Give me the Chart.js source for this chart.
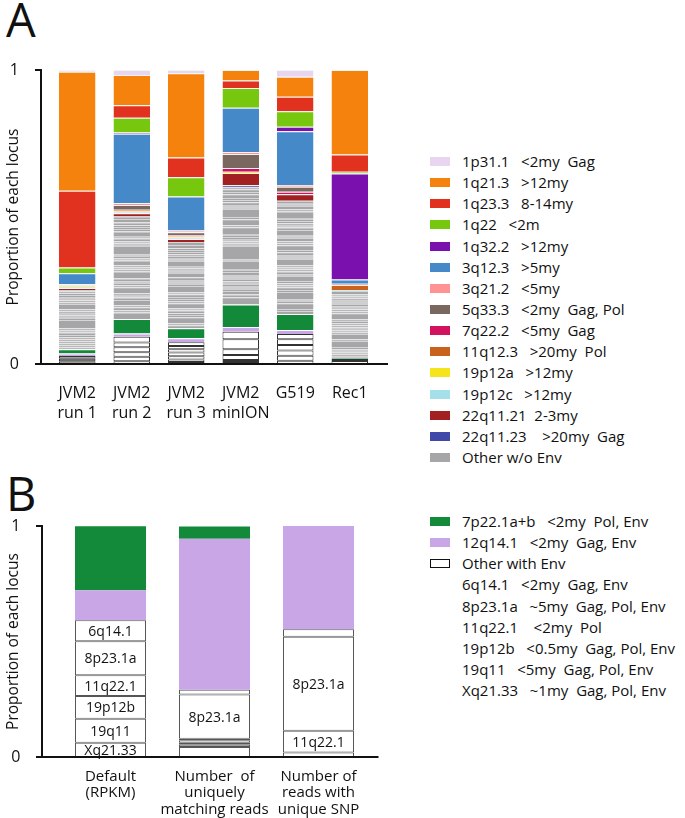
<!DOCTYPE html>
<html>
<head>
<meta charset="utf-8">
<script src="https://cdn.jsdelivr.net/npm/chart.js@4"></script>
<style>
  body { margin: 0; background: #fff; font-family: "Open Sans", sans-serif; color: #111; }
  #page { position: relative; width: 685px; height: 818px; overflow: hidden; }
  canvas { position: absolute; left: 0; }
  .letter { position: absolute; left: 6px; font-size: 47px; line-height: 1; }
  .leg { position: absolute; left: 430px; font-size: 15px; }
  .row { position: relative; height: 21.15px; line-height: 21.15px; white-space: pre; }
  .sw { position: absolute; left: 0; top: 6px; width: 20px; height: 9px; box-sizing: border-box; }
  .tx { position: absolute; left: 32px; }
</style>
</head>
<body>
<div id="page">
  <div class="letter" style="top:-4px">A</div>
  <div class="letter" style="top:470px">B</div>
  <canvas id="chartA" width="400" height="425" style="top:0"></canvas>
  <canvas id="chartB" width="400" height="358" style="top:460px"></canvas>
  <div id="legA" class="leg" style="top:151px"></div>
  <div id="legB" class="leg" style="top:511px"></div>
</div>
<script>
// ---- panel A: proportion of each HERV-K locus per sample ----
const samplesA = [["JVM2", "run 1"], ["JVM2", "run 2"], ["JVM2", "run 3"], ["JVM2", "minION"], ["G519"], ["Rec1"]];

// named loci (same order as legend)
const l1p31_1 = [0.006, 0.017, 0.011, 0, 0.023, 0];
const l1q21_3 = [0.405, 0.103, 0.287, 0.036, 0.068, 0.287];
const l1q23_3 = [0.261, 0.042, 0.067, 0.025, 0.049, 0.059];
const l1q22 = [0.019, 0.051, 0.065, 0.067, 0.053, 0.006];
const l1q32_2 = [0, 0.004, 0, 0, 0.015, 0.361];
const l3q12_3 = [0.038, 0.235, 0.116, 0.151, 0.183, 0.014];
const l3q21_2 = [0.004, 0.007, 0.006, 0.007, 0.006, 0.004];
const l5q33_3 = [0, 0.016, 0.01, 0.047, 0.017, 0];
const l7q22_2 = [0, 0.004, 0.004, 0.013, 0.009, 0];
const l11q12_3 = [0, 0, 0, 0, 0, 0.017];
const l19p12a = [0.004, 0.004, 0.005, 0.004, 0, 0];
const l19p12c = [0.005, 0.004, 0.004, 0, 0, 0.004];
const l22q11_21 = [0.006, 0.011, 0.01, 0.042, 0.022, 0];
const l22q11_23 = [0, 0, 0, 0.007, 0, 0];
const l7p22_A = [0.014, 0.049, 0.034, 0.076, 0.054, 0.004];
const l12q14_A = [0.009, 0.011, 0.014, 0.016, 0.014, 0];

// "other w/o Env" stripes, bottom to top, one list per sample
const grayRun1 = [0.007, 0.006, 0.008, 0.006, 0.007, 0.007, 0.008, 0.008, 0.007, 0.008, 0.028, 0.007, 0.008, 0.006, 0.008, 0.007, 0.018, 0.006, 0.007, 0.005, 0.006, 0.007, 0.006, 0.006, 0.005];
const grayRun2 = [0.022, 0.008, 0.01, 0.007, 0.018, 0.008, 0.006, 0.009, 0.02, 0.007, 0.008, 0.006, 0.009, 0.024, 0.007, 0.006, 0.008, 0.016, 0.007, 0.009, 0.006, 0.028, 0.008, 0.007, 0.01, 0.006, 0.018, 0.008, 0.007, 0.006, 0.009, 0.012, 0.009];
const grayRun3 = [0.01, 0.007, 0.02, 0.008, 0.006, 0.009, 0.007, 0.018, 0.006, 0.008, 0.007, 0.009, 0.006, 0.022, 0.008, 0.007, 0.006, 0.009, 0.015, 0.007, 0.008, 0.006, 0.02, 0.007, 0.009, 0.006, 0.008, 0.007, 0.006, 0.011, 0.01];
const grayMinion = [0.025, 0.009, 0.012, 0.008, 0.007, 0.01, 0.008, 0.009, 0.007, 0.006, 0.01, 0.008, 0.03, 0.006, 0.045, 0.008, 0.007, 0.006, 0.009, 0.008, 0.025, 0.007, 0.02, 0.008, 0.028, 0.007, 0.006, 0.009, 0.008, 0.007, 0.012, 0.008, 0.009, 0.007];
const grayG519 = [0.01, 0.007, 0.02, 0.008, 0.006, 0.024, 0.007, 0.009, 0.006, 0.008, 0.007, 0.018, 0.006, 0.009, 0.007, 0.006, 0.008, 0.022, 0.007, 0.006, 0.009, 0.008, 0.016, 0.007, 0.006, 0.012, 0.007, 0.02, 0.008, 0.006, 0.009, 0.007, 0.008, 0.025, 0.007, 0.012, 0.007, 0.01];
const grayRec1 = [0.006, 0.005, 0.007, 0.006, 0.005, 0.008, 0.02, 0.006, 0.018, 0.005, 0.007, 0.006, 0.005, 0.007, 0.006, 0.008, 0.005, 0.022, 0.006, 0.007, 0.005, 0.006, 0.008, 0.007, 0.006, 0.005, 0.007, 0.006, 0.012];

// "other with Env" boxes, bottom to top
const envRun1 = [0.009, 0.009, 0.009];
const envRun2 = [0.009, 0.016, 0.015, 0.017, 0.016, 0.02];
const envRun3 = [0.007, 0.008, 0.011, 0.013, 0.011, 0.011, 0.013];
const envMinion = [0.007, 0.007, 0.017, 0.019, 0.034, 0.026];
const envG519 = [0.011, 0.017, 0.018, 0.019, 0.019, 0.018];
const envRec1 = [0.01, 0.007];

// ---- panel B ----
const methodsB = [["Default", "(RPKM)"], ["Number  of", "uniquely", "matching reads"], ["Number of", "reads with", "unique SNP"]];
const l7p22_B = [0.277, 0.053, 0];
const l12q14_B = [0.13, 0.654, 0.447];
const envDefault = [0.062, 0.104, 0.098, 0.09, 0.147, 0.091];
const envUnique = [0.043, 0.01, 0.009, 0.01, 0.007, 0.192, 0.02];
const envSnp = [0.019, 0.095, 0.407, 0.032];
const envDefaultNames = ["Xq21.33", "19q11", "19p12b", "11q22.1", "8p23.1a", "6q14.1"];
const envUniqueNames = ["", "", "", "", "", "8p23.1a", ""];
const envSnpNames = ["", "11q22.1", "8p23.1a", ""];

const lociA = [
  { name: "1p31.1   <2my  Gag", color: "#e8d5f0", data: l1p31_1 },
  { name: "1q21.3   >12my", color: "#f5820d", data: l1q21_3 },
  { name: "1q23.3   8-14my", color: "#e0321f", data: l1q23_3 },
  { name: "1q22   <2m", color: "#77c70e", data: l1q22 },
  { name: "1q32.2   >12my", color: "#7a10ad", data: l1q32_2 },
  { name: "3q12.3   >5my", color: "#4589c9", data: l3q12_3 },
  { name: "3q21.2   <5my", color: "#ff9393", data: l3q21_2 },
  { name: "5q33.3   <2my  Gag, Pol", color: "#7a6860", data: l5q33_3 },
  { name: "7q22.2   <5my  Gag", color: "#d2125f", data: l7q22_2 },
  { name: "11q12.3   >20my  Pol", color: "#c8621c", data: l11q12_3 },
  { name: "19p12a   >12my", color: "#f5e41c", data: l19p12a },
  { name: "19p12c   >12my", color: "#a3e0ea", data: l19p12c },
  { name: "22q11.21  2-3my", color: "#a21f22", data: l22q11_21 },
  { name: "22q11.23    >20my  Gag", color: "#3f48a8", data: l22q11_23 }
];
const grayColor = "#a6a5a8";
const green7p = "#128a3a";
const lilac12q = "#c9a7e6";

function stripes(perBar, style) {
  const n = Math.max(...perBar.map(b => b.length));
  const sets = [];
  for (let k = 0; k < n; k++) {
    sets.push(Object.assign({ data: perBar.map(b => (k < b.length ? b[k] : null)) }, style));
  }
  return sets;
}

const topLine = { top: 1, right: 0, bottom: 0, left: 0 };

const axisLines = {
  id: "axisLines",
  afterDraw(chart, args, opts) {
    const { ctx, chartArea: a } = chart;
    const x0 = a.left - opts.gap;
    ctx.save();
    ctx.strokeStyle = "#111";
    ctx.lineWidth = 2;
    ctx.beginPath();
    ctx.moveTo(x0 - 6, a.top);
    ctx.lineTo(x0, a.top);
    ctx.lineTo(x0, a.bottom);
    ctx.moveTo(x0 - 6, a.bottom);
    ctx.lineTo(a.right + opts.ext, a.bottom);
    ctx.stroke();
    ctx.restore();
  }
};

const boxLabels = {
  id: "boxLabels",
  afterDatasetsDraw(chart, args, opts) {
    if (!opts.names) return;
    const ctx = chart.ctx;
    ctx.save();
    ctx.font = '14px "Open Sans"';
    ctx.fillStyle = "#111";
    ctx.textAlign = "center";
    ctx.textBaseline = "middle";
    opts.names.forEach((names, i) => names.forEach((t, k) => {
      if (!t) return;
      const el = chart.getDatasetMeta(k).data[i];
      ctx.fillText(t, el.x, (el.y + el.base) / 2 + 1);
    }));
    ctx.restore();
  }
};

Chart.register(axisLines, boxLabels);

function scales(yWidth, xHeight, xFont, xLine, xPad, yPad) {
  return {
    x: {
      stacked: true,
      grid: { display: false },
      border: { display: false },
      ticks: { color: "#111", font: { family: "Open Sans", size: xFont, lineHeight: xLine }, padding: xPad, maxRotation: 0, autoSkip: false },
      afterFit: s => { s.height = xHeight; }
    },
    y: {
      stacked: true,
      min: 0,
      max: 1,
      grid: { display: false },
      border: { display: false },
      ticks: { stepSize: 1, color: "#111", font: { family: "Open Sans", size: 16 }, padding: yPad },
      title: { display: true, text: "Proportion of each locus", color: "#111", font: { family: "Open Sans", size: 15.5 }, padding: { top: 4, bottom: 0 } },
      afterFit: s => { s.width = yWidth; }
    }
  };
}

// ---- chart A ----
const datasetsA = [].concat(
  stripes([envRun1, envRun2, envRun3, envMinion, envG519, envRec1], {
    backgroundColor: c => (c.dataIndex === 0 ? "#8e8e8e" : "#ffffff"),
    borderColor: "#333", borderWidth: 1, borderSkipped: false
  }),
  [{ data: l12q14_A, backgroundColor: lilac12q, borderColor: "#fff", borderWidth: topLine, borderSkipped: false }],
  [{ data: l7p22_A, backgroundColor: green7p, borderColor: "#fff", borderWidth: topLine, borderSkipped: false }],
  stripes([grayRun1, grayRun2, grayRun3, grayMinion, grayG519, grayRec1], {
    backgroundColor: grayColor, borderColor: "#d6d6d7", borderWidth: topLine, borderSkipped: false
  }),
  lociA.slice().reverse().map(l => ({
    label: l.name, data: l.data, backgroundColor: l.color,
    borderColor: "#f4f4f4", borderWidth: topLine, borderSkipped: false
  }))
);

new Chart(document.getElementById("chartA"), {
  type: "bar",
  data: { labels: samplesA, datasets: datasetsA },
  options: {
    responsive: false,
    animation: false,
    categoryPercentage: 1,
    barPercentage: 0.67,
    layout: { padding: { top: 70, right: 23, bottom: 0, left: 0 } },
    plugins: { legend: { display: false }, tooltip: { enabled: false }, axisLines: { gap: 9, ext: 11 }, boxLabels: {} },
    scales: scales(50, 61, 16, 1.25, 11, 23)
  }
});

// ---- chart B ----
const datasetsB = [].concat(
  stripes([envDefault, envUnique, envSnp], {
    backgroundColor: "#ffffff", borderColor: "#555", borderWidth: 1, borderSkipped: false
  }),
  [{ data: l12q14_B, backgroundColor: lilac12q, borderWidth: 0 }],
  [{ data: l7p22_B, backgroundColor: green7p, borderWidth: 0 }]
);

new Chart(document.getElementById("chartB"), {
  type: "bar",
  data: { labels: methodsB, datasets: datasetsB },
  options: {
    responsive: false,
    animation: false,
    categoryPercentage: 1,
    barPercentage: 0.683,
    layout: { padding: { top: 66, right: 29.5, bottom: 0, left: 0 } },
    plugins: {
      legend: { display: false }, tooltip: { enabled: false },
      axisLines: { gap: 16.5, ext: 8 },
      boxLabels: { names: [envDefaultNames, envUniqueNames, envSnpNames] }
    },
    scales: scales(58.5, 61, 15, 1.12, 3, 30)
  }
});

// ---- legends ----
function legend(el, rows) {
  rows.forEach(r => {
    const row = document.createElement("div");
    row.className = "row";
    if (r.color) {
      const sw = document.createElement("span");
      sw.className = "sw";
      sw.style.background = r.color;
      if (r.outline) sw.style.border = "1.5px solid #111";
      row.appendChild(sw);
    }
    const tx = document.createElement("span");
    tx.className = "tx";
    tx.textContent = r.name;
    row.appendChild(tx);
    el.appendChild(row);
  });
}

legend(document.getElementById("legA"), lociA.concat([{ name: "Other w/o Env", color: grayColor }]));
legend(document.getElementById("legB"), [
  { name: "7p22.1a+b   <2my  Pol, Env", color: green7p },
  { name: "12q14.1   <2my  Gag, Env", color: lilac12q },
  { name: "Other with Env", color: "#fff", outline: true },
  { name: "6q14.1   <2my  Gag, Env" },
  { name: "8p23.1a   ~5my  Gag, Pol, Env" },
  { name: "11q22.1    <2my  Pol" },
  { name: "19p12b   <0.5my  Gag, Pol, Env" },
  { name: "19q11   <5my  Gag, Pol, Env" },
  { name: "Xq21.33   ~1my  Gag, Pol, Env" }
]);
</script>
</body>
</html>
